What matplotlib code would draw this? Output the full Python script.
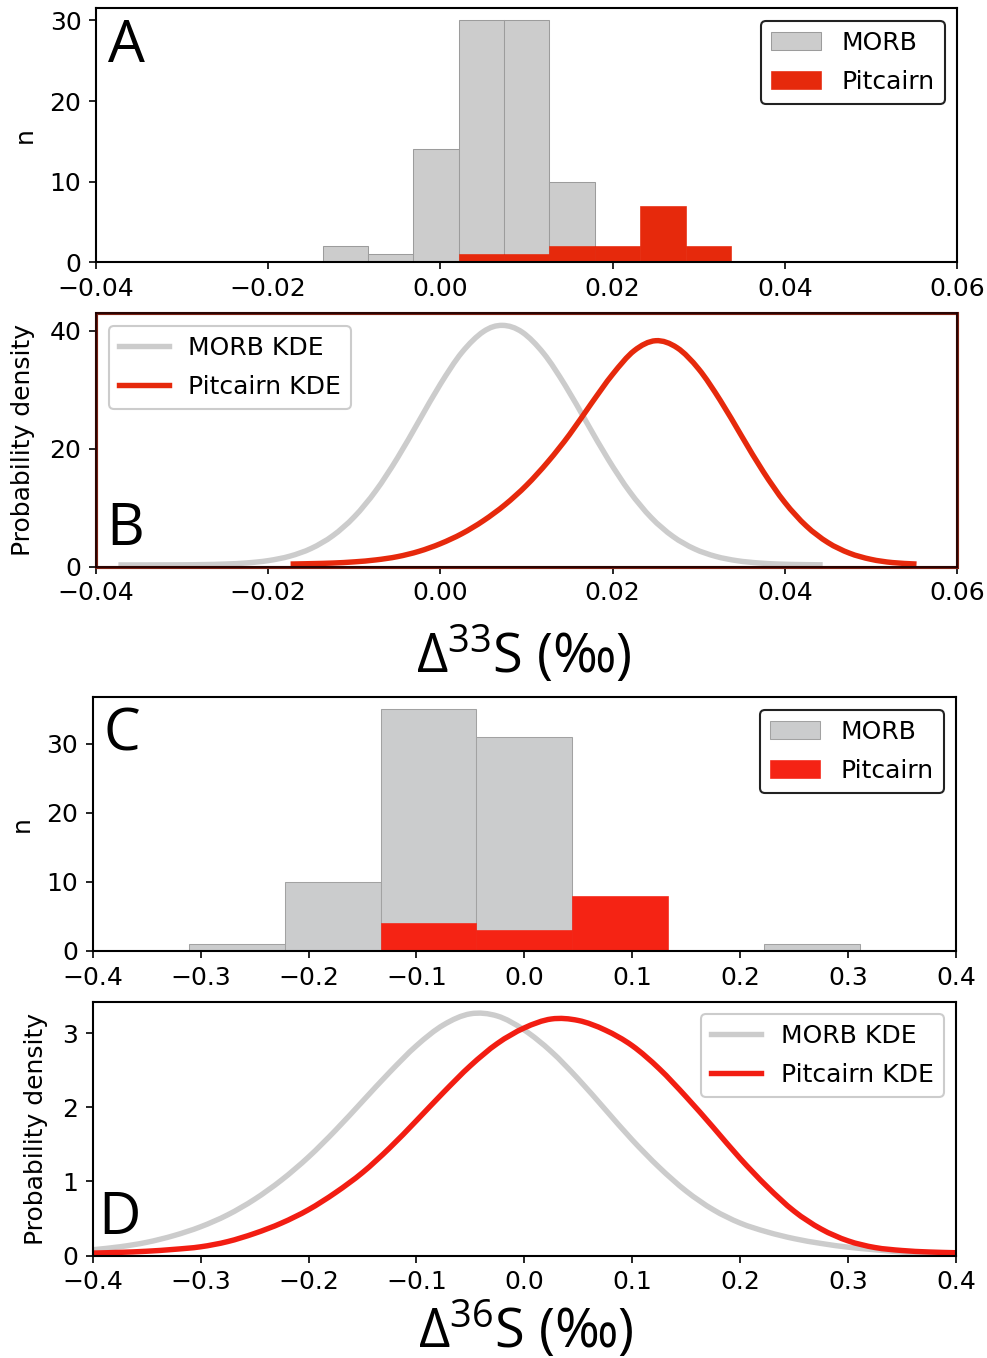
import numpy as np
import matplotlib
matplotlib.use('Agg')
import matplotlib.pyplot as plt
import matplotlib.ticker as ticker
from matplotlib.patches import Rectangle, PathPatch
from matplotlib.path import Path
from matplotlib.lines import Line2D

plt.rcParams['font.family'] = 'DejaVu Sans'
plt.rcParams['font.size'] = 12
plt.rcParams['mathtext.fontset'] = 'custom'
plt.rcParams['mathtext.rm'] = 'Open Sans'
plt.rcParams['mathtext.it'] = 'Open Sans:italic'

# --- D33S histogram (panel A) ---
edges33 = [-0.01367, -0.00840, -0.00313, 0.00214, 0.00740, 0.01267, 0.01794, 0.02321, 0.02847, 0.03374]
morb33_counts = [2, 1, 14, 30, 30, 10, 0, 0, 0]
pit33_counts = [0, 0, 0, 1, 1, 2, 2, 7, 2]

# --- D33S KDE curves (panel B) ---
morb33_kde_x = [-0.0374, -0.035, -0.0325, -0.030, -0.0275, -0.025, -0.0225, -0.020, -0.0175, -0.015,
                -0.0125, -0.010, -0.0075, -0.005, -0.0025, 0.000, 0.0025, 0.005, 0.0072, 0.0095,
                0.012, 0.0145, 0.017, 0.0195, 0.022, 0.0245, 0.027, 0.0295, 0.032, 0.0345,
                0.037, 0.0395, 0.042, 0.0444]
morb33_kde_y = [0.30, 0.30, 0.31, 0.32, 0.36, 0.45, 0.64, 1.03, 1.78, 3.10,
                5.25, 8.46, 12.87, 18.40, 24.67, 30.94, 36.32, 39.85, 40.9, 39.75,
                36.13, 30.71, 24.42, 18.17, 12.68, 8.30, 5.14, 3.03, 1.74, 1.01,
                0.63, 0.44, 0.36, 0.32]
pit33_kde_x = [-0.0174, -0.015, -0.0125, -0.010, -0.0075, -0.005, -0.0025, 0.000, 0.0025, 0.005,
               0.0075, 0.010, 0.0125, 0.015, 0.0175, 0.020, 0.0225, 0.025, 0.0275, 0.030,
               0.0325, 0.035, 0.0375, 0.040, 0.0425, 0.045, 0.0475, 0.050, 0.0525, 0.0553]
pit33_kde_y = [0.45, 0.52, 0.62, 0.82, 1.15, 1.7, 2.6, 3.9, 5.6, 7.8,
               10.5, 13.8, 17.8, 22.4, 27.6, 32.6, 36.6, 38.3, 37.1, 33.5,
               28.2, 22.1, 16.1, 10.9, 6.9, 4.1, 2.3, 1.25, 0.7, 0.45]

# --- D36S histogram (panel C) ---
edges36 = [-0.3111, -0.2222, -0.1333, -0.0444, 0.0444, 0.1333, 0.2222, 0.3111]
morb36_counts = [1, 10, 35, 31, 0, 0, 1]
pit36_counts = [0, 0, 4, 3, 8, 0, 0]

# --- D36S KDE curves (panel D) ---
kde36_x = [-0.400, -0.375, -0.350, -0.325, -0.300, -0.275, -0.250, -0.225, -0.200, -0.175,
           -0.150, -0.125, -0.100, -0.075, -0.050, -0.025, 0.000, 0.025, 0.050, 0.075,
           0.100, 0.125, 0.150, 0.175, 0.200, 0.225, 0.250, 0.275, 0.300, 0.325,
           0.350, 0.375, 0.400]
morb36_kde_y = [0.08, 0.12, 0.18, 0.27, 0.39, 0.55, 0.76, 1.02, 1.33, 1.69,
                2.08, 2.47, 2.83, 3.11, 3.26, 3.23, 3.04, 2.75, 2.38, 1.97,
                1.56, 1.19, 0.87, 0.62, 0.44, 0.32, 0.23, 0.165, 0.115, 0.08,
                0.05, 0.03, 0.02]
pit36_kde_y = [0.035, 0.045, 0.06, 0.085, 0.12, 0.19, 0.30, 0.44, 0.62, 0.85,
               1.12, 1.45, 1.82, 2.20, 2.56, 2.86, 3.07, 3.19, 3.17, 3.04,
               2.83, 2.52, 2.14, 1.73, 1.31, 0.93, 0.60, 0.36, 0.20, 0.11,
               0.07, 0.05, 0.04]

gray = '#cccccc'
red_a = '#e6290c'
red_c = '#f52314'
red_d = '#f21d12'
letter_font = 'Open Sans'
kde_lw = 2.6

W, H = 987, 1358
fig = plt.figure(figsize=(W / 150, H / 150), dpi=150)

def px_axes(l, r, t, b):
  return fig.add_axes([l / W, 1 - b / H, (r - l) / W, (b - t) / H])

def kde_curve(ax, xs, ys, color, label):
  # smooth (Catmull-Rom as cubic bezier) path through the read-off points
  p = np.column_stack([xs, ys]).astype(float)
  ext = np.vstack([2 * p[0] - p[1], p, 2 * p[-1] - p[-2]])
  verts = [p[0]]
  codes = [Path.MOVETO]
  for i in range(len(p) - 1):
    p0, p1, p2, p3 = ext[i], ext[i + 1], ext[i + 2], ext[i + 3]
    verts += [p1 + (p2 - p0) / 6, p2 - (p3 - p1) / 6, p2]
    codes += [Path.CURVE4] * 3
  ax.add_patch(PathPatch(Path(verts, codes), fill=False, edgecolor=color,
                         lw=kde_lw, capstyle='butt', joinstyle='round'))
  return Line2D([], [], color=color, lw=kde_lw, label=label)

axA = px_axes(96, 957, 8.3, 262.3)
axB = px_axes(96, 957, 313.3, 566.7)
axC = px_axes(92.7, 956, 697.3, 951)
axD = px_axes(92.7, 956, 1001.7, 1255.7)

for ax in (axA, axB, axC, axD):
  for s in ax.spines.values():
    s.set_linewidth(1.0)

# Panel A
axA.hist(edges33[:-1], bins=edges33, weights=morb33_counts, color=gray,
         edgecolor='#9c9c9c', linewidth=0.5, label='MORB')
axA.hist(edges33[:-1], bins=edges33, weights=pit33_counts, color=red_a,
         edgecolor=red_a, linewidth=0.3, label='Pitcairn')
axA.set_xlim(-0.04, 0.06)
axA.xaxis.set_major_locator(ticker.MultipleLocator(0.02))
axA.yaxis.set_major_locator(ticker.MultipleLocator(10))
axA.set_ylabel('n', labelpad=6)
axA.legend(loc='upper right', framealpha=1, edgecolor='#222222', labelspacing=0.6)
axA.text(0.014, 0.965, 'A', transform=axA.transAxes, fontsize=28,
         family=letter_font, va='top', ha='left')

# Panel B
h1 = kde_curve(axB, morb33_kde_x, morb33_kde_y, gray, 'MORB KDE')
h2 = kde_curve(axB, pit33_kde_x, pit33_kde_y, red_a, 'Pitcairn KDE')
axB.set_xlim(-0.04, 0.06)
axB.set_ylim(0, 1.05 * max(max(morb33_kde_y), max(pit33_kde_y)))
axB.xaxis.set_major_locator(ticker.MultipleLocator(0.02))
axB.yaxis.set_major_locator(ticker.MultipleLocator(20))
axB.set_ylabel('Probability density', labelpad=7)
axB.legend(handles=[h1, h2], loc='upper left', framealpha=1, labelspacing=0.6)
axB.text(0.012, 0.03, 'B', transform=axB.transAxes, fontsize=28,
         family=letter_font, va='bottom', ha='left')
for s in axB.spines.values():
  s.set_linewidth(0.8)
  s.set_color('#1a0000')
axB.add_patch(Rectangle((0, 0), 1, 1, transform=axB.transAxes, fill=False,
                        edgecolor='#7a2012', lw=1.5, clip_on=False, zorder=2.4))

# Panel C
axC.hist(edges36[:-1], bins=edges36, weights=morb36_counts, color='#cbcccd',
         edgecolor='#a2a2a2', linewidth=0.5, label='MORB')
axC.hist(edges36[:-1], bins=edges36, weights=pit36_counts, color=red_c,
         edgecolor=red_c, linewidth=0.3, label='Pitcairn')
axC.set_xlim(-0.4, 0.4)
axC.xaxis.set_major_locator(ticker.MultipleLocator(0.1))
axC.yaxis.set_major_locator(ticker.MultipleLocator(10))
axC.set_ylabel('n', labelpad=6)
axC.legend(loc='upper right', framealpha=1, edgecolor='#222222', labelspacing=0.6)
axC.text(0.012, 0.965, 'C', transform=axC.transAxes, fontsize=28,
         family=letter_font, va='top', ha='left')

# Panel D
h1 = kde_curve(axD, kde36_x, morb36_kde_y, gray, 'MORB KDE')
h2 = kde_curve(axD, kde36_x, pit36_kde_y, red_d, 'Pitcairn KDE')
axD.set_xlim(-0.4, 0.4)
axD.set_ylim(0, 1.05 * max(max(morb36_kde_y), max(pit36_kde_y)))
axD.xaxis.set_major_locator(ticker.MultipleLocator(0.1))
axD.yaxis.set_major_locator(ticker.MultipleLocator(1))
axD.set_ylabel('Probability density', labelpad=7)
axD.legend(handles=[h1, h2], loc='upper right', framealpha=1, labelspacing=0.6)
axD.text(0.006, 0.03, 'D', transform=axD.transAxes, fontsize=28,
         family=letter_font, va='bottom', ha='left')

# x-axis labels
fig.text(524 / W, 1 - 655 / H, r'Δ$^{33}$S (‰)', fontsize=26, family=letter_font,
         ha='center', va='center')
fig.text(526 / W, 1 - 1330 / H, r'Δ$^{36}$S (‰)', fontsize=26, family=letter_font,
         ha='center', va='center')

fig.savefig('out.png', dpi=150)
